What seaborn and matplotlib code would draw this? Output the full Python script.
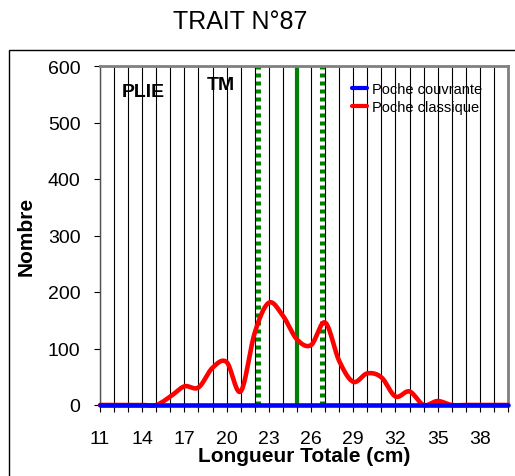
import numpy as np
import pandas as pd
import matplotlib
matplotlib.use("Agg")
import matplotlib.pyplot as plt
from matplotlib.colors import to_hex
from matplotlib.patches import Rectangle
import seaborn as sns

# Length classes (cm) and counts per codend
longueur = list(range(11, 41))
poche_couvrante = [0] * 30
poche_classique = [0, 0, 0, 0, 0, 15, 33, 31, 66, 76, 24, 128, 181, 158, 116,
                   106, 146, 78, 41, 56, 49, 15, 24, 0, 7, 0, 0, 0, 0, 0]
tick_labels = ["11", "14", "17", "20", "23", "26", "29", "32", "35", "38"]
# Reference lengths drawn as vertical markers
l25, l50, l75 = 22.2, 25.0, 26.8

sns.set_style("white")
plt.rcParams["font.family"] = ["Liberation Sans", "DejaVu Sans"]
plt.rcParams["text.color"] = "black"
plt.rcParams["xtick.color"] = "black"
plt.rcParams["ytick.color"] = "black"


def smooth(x, y, n=20):
    """Catmull-Rom curve through the points, like a spreadsheet smoothed line."""
    x = np.asarray(x, float)
    y = np.asarray(y, float)
    px = np.concatenate([[2 * x[0] - x[1]], x, [2 * x[-1] - x[-2]]])
    py = np.concatenate([[y[0]], y, [y[-1]]])
    xs, ys = [], []
    for i in range(1, len(px) - 2):
        t = np.linspace(0, 1, n, endpoint=False)
        for p, out in ((px, xs), (py, ys)):
            p0, p1, p2, p3 = p[i - 1], p[i], p[i + 1], p[i + 2]
            out.extend(0.5 * ((2 * p1) + (-p0 + p2) * t
                              + (2 * p0 - 5 * p1 + 4 * p2 - p3) * t ** 2
                              + (-p0 + 3 * p1 - 3 * p2 + p3) * t ** 3))
    xs.append(x[-1])
    ys.append(y[-1])
    return np.array(xs), np.array(ys)


W, H = 515, 477
fig = plt.figure(figsize=(W / 100, H / 100), dpi=100)
ax = fig.add_axes([100 / W, 1 - 406 / H, 408 / W, 339 / H])

# Chart frame
fig.patches.append(Rectangle((8.5 / W, -0.1), 1.2, 1.1 - 50.5 / H,
                             transform=fig.transFigure, fill=False,
                             edgecolor="black", lw=1.0, zorder=0))

# Vertical grid at every length class
for xv in longueur:
    ax.axvline(xv, color="black", lw=0.8, zorder=1)

# Reference length markers
ax.axvline(l25, color="#008000", lw=3.6, ls=(0, (0.8, 0.8)), zorder=2)
ax.axvline(l75, color="#008000", lw=3.6, ls=(0, (0.8, 0.8)), zorder=2)
ax.axvline(l50, color="#008000", lw=3.0, zorder=2)

xs, ys = smooth(longueur, poche_classique)
xb, yb = smooth(longueur, poche_couvrante)
df_cl = pd.DataFrame({"x": xs, "y": ys})
df_co = pd.DataFrame({"x": xb, "y": yb})

# Classic codend first, cover codend drawn over it along the zero line
sns.lineplot(data=df_cl, x="x", y="y", ax=ax, color="#FF0000", lw=3.3,
             label="Poche classique", sort=False)
sns.lineplot(data=df_co, x="x", y="y", ax=ax, color="#0000FF", lw=3.3,
             label="Poche couvrante", sort=False)
red_line = [l for l in ax.lines if to_hex(l.get_color()) == "#ff0000"][0]
blue_line = [l for l in ax.lines if to_hex(l.get_color()) == "#0000ff"][0]
red_line.set_zorder(4)
red_line.set_clip_on(False)
blue_line.set_zorder(6)
blue_line.set_clip_on(False)

ax.set_xlim(11, 40)
ax.set_ylim(0, 600)
ax.set_xticks(longueur)
ax.set_xticklabels([str(v) if str(v) in tick_labels else "" for v in longueur])
ax.set_yticks(range(0, 601, 100))
ax.tick_params(axis="x", length=5, width=0.8, color="black", labelsize=14, pad=13,
               direction="out", bottom=True)
ax.tick_params(axis="y", length=4, width=0.8, color="black", labelsize=14, pad=10,
               direction="out", left=True)
for s in ("top", "right"):
    ax.spines[s].set_color("#808080")
    ax.spines[s].set_linewidth(2.0)
ax.spines["left"].set_color("#505050")
ax.spines["left"].set_linewidth(1.0)
ax.spines["bottom"].set_color("#808080")

ax.set_xlabel("")
ax.set_ylabel("")
fig.text(304 / W, 1 - 457 / H, "Longueur Totale (cm)", ha="center", va="center",
         fontsize=15, fontweight="bold")
fig.text(26.5 / W, 1 - 236 / H, "Nombre", ha="center", va="center",
         rotation=90, fontsize=15, fontweight="bold")
fig.text(240 / W, 1 - 22 / H, "TRAIT N°87", ha="center", va="center", fontsize=18)
fig.text(143 / W, 1 - 93 / H, "PLIE", ha="center", va="center",
         fontsize=14, fontweight="bold")
fig.text(221 / W, 1 - 85 / H, "TM", ha="center", va="center",
         fontsize=14, fontweight="bold")

leg = ax.legend(handles=[blue_line, red_line],
                labels=["Poche couvrante", "Poche classique"],
                loc="upper left", bbox_to_anchor=((352 - 100) / 408, 1 - (83 - 67) / 339),
                frameon=False, fontsize=10.5, handlelength=1.0, handletextpad=0.35,
                labelspacing=0.25, borderpad=0, borderaxespad=0)
for line in leg.get_lines():
    line.set_linewidth(3.0)

fig.savefig("out.png", dpi=100)
